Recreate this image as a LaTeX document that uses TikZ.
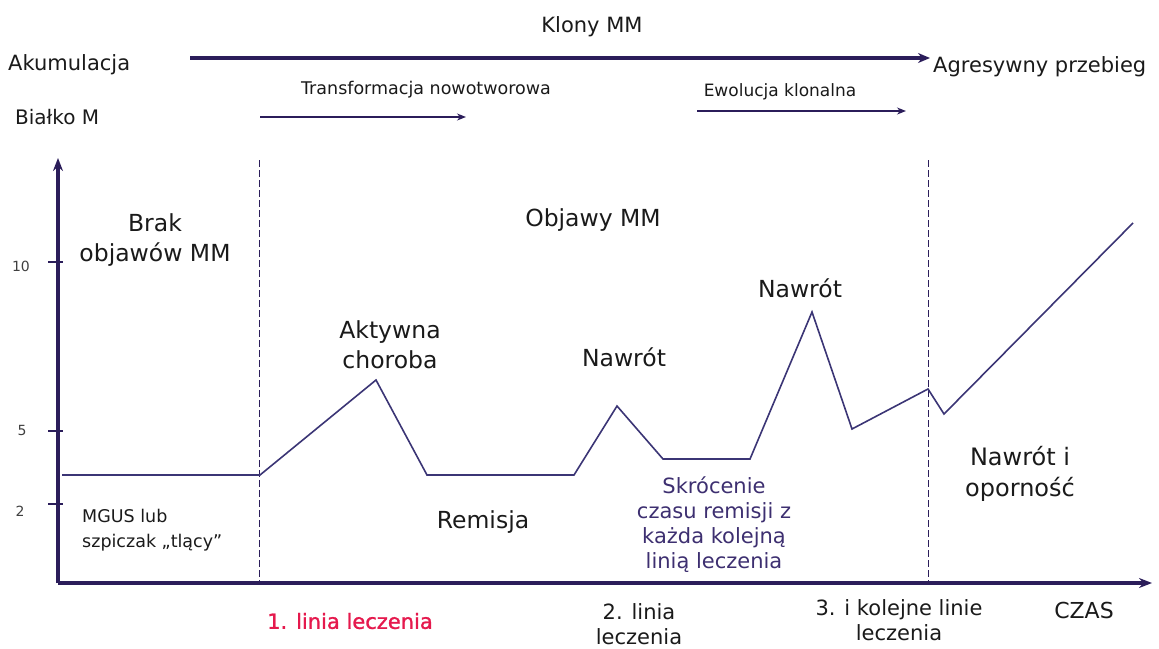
\documentclass[tikz,border=0pt]{standalone}
\usepackage{fontspec}
\setmainfont{DejaVu Sans}
\usetikzlibrary{arrows.meta}
\definecolor{navy}{HTML}{2B1D5A}
\definecolor{curvec}{HTML}{3B3575}
\definecolor{txt}{HTML}{1A1A1A}
\definecolor{purp}{HTML}{3D2F70}
\definecolor{redc}{HTML}{E5194D}
\tikzset{
  lbl/.style={inner sep=0pt, text=txt, align=center},
  big/.style={lbl, font=\fontsize{23.5}{30}\selectfont},
  top/.style={lbl, font=\fontsize{21}{25}\selectfont},
  small/.style={lbl, font=\fontsize{17.5}{22}\selectfont},
  ticklbl/.style={lbl, font=\fontsize{14}{16}\selectfont, text=black!75},
  axis/.style={navy, line width=3.5pt, -{Stealth[length=13pt,width=10pt]}},
  thinarrow/.style={navy, line width=1.3pt, -{Stealth[length=9pt,width=7pt]}},
  tickline/.style={navy, line width=1.5pt},
  dashline/.style={navy, line width=0.9pt, dash pattern=on 7pt off 3pt},
  curve/.style={curvec, line width=1.6pt, line join=miter},
}
\begin{document}
\begin{tikzpicture}[x=1pt, y=-1pt]
\useasboundingbox (0,0) rectangle (1159,648);
% coordinates
\coordinate (O) at (58,583);
\coordinate (ytop) at (58,158);
\coordinate (xend) at (1152,583);
% header
\node[top] (klony) at (592,27) {Klony MM};
\node[top, anchor=west] (akum) at (8,65) {Akumulacja};
\node[top, anchor=west, font=\fontsize{20}{24}\selectfont] (bialko) at (15,117) {Białko M};
\coordinate (bigS) at (190,58);
\coordinate (bigE) at (930,58);
\draw[navy, line width=3.5pt, -{Stealth[length=12pt,width=10pt]}] (bigS) -- (bigE);
\node[top, anchor=west] (agres) at (933,67) {Agresywny przebieg};
\node[small] (transf) at (426,90) {Transformacja nowotworowa};
\coordinate (tS) at (260,117);
\coordinate (tE) at (466,117);
\draw[thinarrow] (tS) -- (tE);
\node[small, font=\fontsize{17}{21}\selectfont] (ewol) at (780,92) {Ewolucja klonalna};
\coordinate (eS) at (697,111);
\coordinate (eE) at (906,111);
\draw[thinarrow] (eS) -- (eE);
% dashed lines
\coordinate (d1t) at (259,160);
\coordinate (d1b) at (259,583);
\coordinate (d2t) at (928,160);
\coordinate (d2b) at (928,583);
\draw[dashline] (d1t) -- (d1b);
\draw[dashline] (d2t) -- (d2b);
% curve
\coordinate (c0) at (62,475);
\coordinate (c1) at (260,475);
\coordinate (c2) at (376,380);
\coordinate (c3) at (427,475);
\coordinate (c4) at (574,475);
\coordinate (c5) at (617,406);
\coordinate (c6) at (663,459);
\coordinate (c7) at (750,459);
\coordinate (c8) at (812,312);
\coordinate (c9) at (852,429);
\coordinate (c10) at (928,389);
\coordinate (c11) at (944,414);
\coordinate (c12) at (1133,223);
\draw[curve] (c0) -- (c1) -- (c2) -- (c3) -- (c4) -- (c5) -- (c6) -- (c7) -- (c8) -- (c9) -- (c10) -- (c11) -- (c12);
% axes
\draw[axis] (O) -- (ytop);
\draw[axis] (O) -- (xend);
% ticks
\coordinate (t10a) at (48,262); \coordinate (t10b) at (63,262);
\coordinate (t5a) at (48,431); \coordinate (t5b) at (63,431);
\coordinate (t2a) at (48,504); \coordinate (t2b) at (63,504);
\draw[tickline] (t10a) -- (t10b);
\draw[tickline] (t5a) -- (t5b);
\draw[tickline] (t2a) -- (t2b);
\node[ticklbl] (l10) at (21,266) {10};
\node[ticklbl] (l5) at (22,430) {5};
\node[ticklbl] (l2) at (20,511) {2};
% chart labels
\node[big] (brak) at (155,240) {Brak\\objawów MM};
\node[big] (objawy) at (593,220) {Objawy MM};
\node[big] (aktywna) at (390,345) {Aktywna\\choroba};
\node[big] (nawrot1) at (624,357) {Nawrót};
\node[big] (nawrot2) at (800,288) {Nawrót};
\node[big] (remisja) at (483,522) {Remisja};
\node[lbl, anchor=west, align=left, font=\fontsize{17.5}{25}\selectfont] (mgus) at (82,530) {MGUS lub\\szpiczak „tlący”};
\node[top, text=purp] (skroc) at (714,525) {Skrócenie\\czasu remisji z\\każda kolejną\\linią leczenia};
\node[big, font=\fontsize{24}{31}\selectfont] (oporn) at (1020,474) {Nawrót i\\oporność};
% bottom labels
\node[top, text=redc, font=\fontsize{21}{25}\selectfont\addfontfeature{FakeBold=1.2}] (linia1) at (350,621) {1. linia leczenia};
\node[top] (linia2) at (639,624) {2. linia\\leczenia};
\node[top] (linia3) at (899,620) {3. i kolejne linie\\leczenia};
\node[top, font=\fontsize{22}{25}\selectfont] (czas) at (1084,610) {CZAS};
\end{tikzpicture}
\end{document}
